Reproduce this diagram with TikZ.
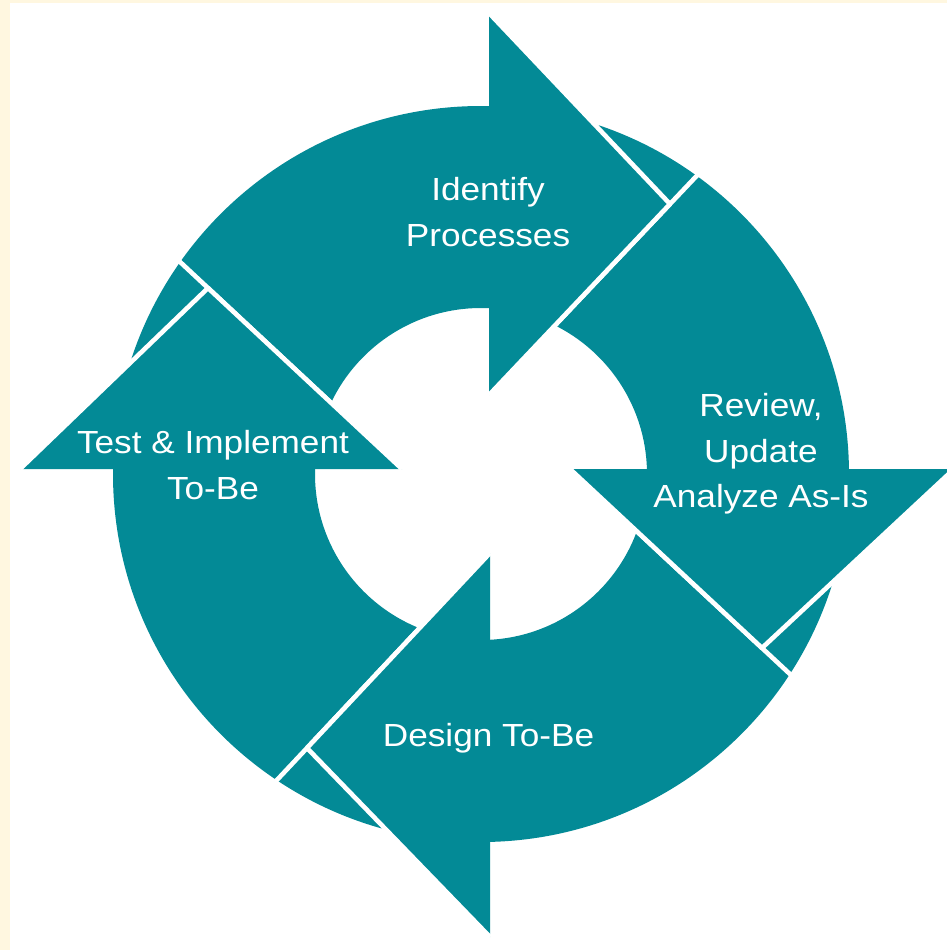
\documentclass[tikz,border=0pt]{standalone}
\usepackage{fontspec}
\newfontfamily\labelfont{Liberation Sans}[FakeStretch=1.1]
\usetikzlibrary{calc}
\definecolor{ringteal}{HTML}{038A96}
\definecolor{cream}{HTML}{FFF7E0}
\begin{document}
\begin{tikzpicture}[x=0.5pt,y=-0.5pt,
  gapline/.style={draw=white,line width=2.3pt,line join=round},
  ringtext/.style={text=white,font=\labelfont\fontsize{16pt}{22.75pt}\selectfont,align=center,inner sep=0pt}]
\useasboundingbox (0,0) rectangle (947,950);
\fill[cream] (0,0) rectangle (947,950);
\fill[white] (10,3) rectangle (947,950);
\begin{scope}
\clip (0,0) rectangle (947,950);
\coordinate (C) at (481,474);
% ring
\fill[ringteal,even odd rule] (C) circle[radius=368] (C) circle[radius=166];
% arrow heads: outer corner O, inner corner I, tip T
\coordinate (O1) at (489,13);  \coordinate (I1) at (489,395); \coordinate (T1) at (670,204);
\coordinate (O2) at (954,469); \coordinate (I2) at (570,469); \coordinate (T2) at (762,648);
\coordinate (O3) at (490,937); \coordinate (I3) at (490,553); \coordinate (T3) at (307,748);
\coordinate (O4) at (20,469);  \coordinate (I4) at (402,469); \coordinate (T4) at (208,288);
% cut lines between arrow bodies
\foreach \k in {1,2,3,4}{
  \draw[gapline] (I\k) -- ($(I\k)!1.25!(T\k)$);
}
% heads
\foreach \k in {1,2,3,4}{
  \fill[ringteal] (O\k) -- (T\k) -- (I\k) -- cycle;
  \draw[gapline] (O\k) -- (T\k) -- (I\k);
}
\end{scope}
\node[ringtext] (identify) at (488,212) {Identify\\Processes};
\node[ringtext] (review) at (761,454) {Review,\\Update\\Analyze As-Is};
\node[ringtext] (design) at (488.5,738.5) {Design To-Be};
\node[ringtext] (test) at (213,465) {Test \& Implement\\To-Be};
\end{tikzpicture}
\end{document}
